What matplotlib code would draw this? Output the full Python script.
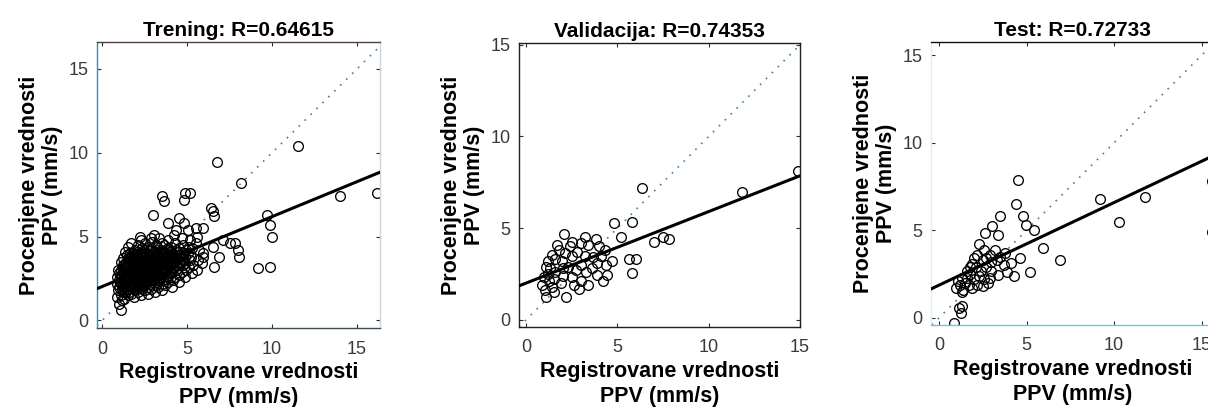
import matplotlib
matplotlib.use("Agg")
from matplotlib import pyplot as plt
import numpy as np

plt.rcParams['font.family'] = ['Liberation Sans', 'DejaVu Sans']

titles = ["Trening: R=0.64615", "Validacija: R=0.74353", "Test: R=0.72733"]
xlabel = "Registrovane vrednosti\nPPV (mm/s)"
ylabel = "Procenjene vrednosti\nPPV (mm/s)"
ticks = [0, 5, 10, 15]

# fit lines (slope, intercept)
fit_slope = [0.417, 0.39, 0.472]
fit_icpt = [2.02, 2.0, 1.87]

# training points (registered, estimated)
train_pts = [
    # dense cluster
    (0.9, 1.4), (0.95, 1.8), (0.85, 2.2), (0.9, 2.6), (0.95, 3.0),
    (1.1, 1.5), (1.15, 1.9), (1.05, 2.3), (1.1, 2.7), (1.2, 3.1), (1.1, 3.5), (1.15, 1.2),
    (1.3, 1.3), (1.35, 1.7), (1.25, 2.1), (1.3, 2.5), (1.35, 2.9), (1.3, 3.3), (1.25, 3.7), (1.35, 4.1),
    (1.5, 1.5), (1.55, 1.9), (1.45, 2.3), (1.5, 2.7), (1.55, 3.1), (1.5, 3.5), (1.45, 3.9), (1.55, 4.4),
    (1.7, 1.6), (1.75, 2.0), (1.65, 2.4), (1.7, 2.8), (1.75, 3.2), (1.7, 3.6), (1.65, 4.0), (1.7, 4.6),
    (1.9, 1.4), (1.95, 1.8), (1.85, 2.2), (1.9, 2.6), (1.95, 3.0), (1.9, 3.4), (1.85, 3.8), (1.95, 4.2),
    (2.1, 1.7), (2.15, 2.1), (2.05, 2.5), (2.1, 2.9), (2.15, 3.3), (2.1, 3.7), (2.05, 4.1), (2.1, 4.5),
    (2.3, 1.5), (2.35, 1.9), (2.25, 2.3), (2.3, 2.7), (2.35, 3.1), (2.3, 3.5), (2.25, 3.9), (2.35, 4.3), (2.3, 4.8),
    (2.5, 1.8), (2.55, 2.2), (2.45, 2.6), (2.5, 3.0), (2.55, 3.4), (2.5, 3.8), (2.45, 4.2), (2.55, 4.6),
    (2.7, 1.6), (2.75, 2.0), (2.65, 2.4), (2.7, 2.8), (2.75, 3.2), (2.7, 3.6), (2.65, 4.0), (2.75, 4.4),
    (2.9, 1.9), (2.95, 2.3), (2.85, 2.7), (2.9, 3.1), (2.95, 3.5), (2.9, 3.9), (2.85, 4.3), (2.95, 4.7),
    (3.1, 1.7), (3.15, 2.1), (3.05, 2.5), (3.1, 2.9), (3.15, 3.3), (3.1, 3.7), (3.05, 4.1), (3.15, 4.5),
    (3.3, 2.0), (3.35, 2.4), (3.25, 2.8), (3.3, 3.2), (3.35, 3.6), (3.3, 4.0), (3.25, 4.4), (3.35, 4.9),
    (3.5, 1.8), (3.55, 2.2), (3.45, 2.6), (3.5, 3.0), (3.55, 3.4), (3.5, 3.8), (3.45, 4.2), (3.55, 4.6),
    (3.7, 2.1), (3.75, 2.5), (3.65, 2.9), (3.7, 3.3), (3.75, 3.7), (3.7, 4.1), (3.65, 4.5),
    (3.9, 2.3), (3.95, 2.7), (3.85, 3.1), (3.9, 3.5), (3.95, 3.9), (3.9, 4.3), (3.85, 4.8),
    (4.1, 2.0), (4.15, 2.4), (4.05, 2.8), (4.1, 3.2), (4.15, 3.6), (4.1, 4.0), (4.05, 4.4),
    (4.3, 2.6), (4.35, 3.0), (4.25, 3.4), (4.3, 3.8), (4.35, 4.2), (4.3, 4.6), (4.25, 5.1),
    (4.5, 2.3), (4.55, 2.7), (4.45, 3.1), (4.5, 3.5), (4.55, 3.9), (4.5, 4.3),
    (4.7, 2.9), (4.75, 3.3), (4.65, 3.7), (4.7, 4.1), (4.75, 4.5), (4.7, 4.9),
    (4.9, 2.6), (4.95, 3.0), (4.85, 3.4), (4.9, 3.8), (4.95, 4.2),
    (5.1, 3.2), (5.15, 3.6), (5.05, 4.0), (5.1, 4.4), (5.15, 4.8),
    (5.3, 2.8), (5.35, 3.3), (5.25, 3.8), (5.3, 4.3),
    (5.6, 3.0), (5.65, 3.6), (5.55, 4.6), (5.6, 5.0),
    (5.9, 3.4), (5.95, 4.0),
    # second layer in the core
    (1.0, 2.0), (1.0, 2.4), (1.0, 2.8), (1.2, 1.7), (1.2, 2.1), (1.2, 2.5), (1.2, 2.9), (1.2, 3.3),
    (1.4, 1.9), (1.4, 2.3), (1.4, 2.7), (1.4, 3.1), (1.4, 3.5), (1.6, 1.7), (1.6, 2.1), (1.6, 2.5),
    (1.6, 2.9), (1.6, 3.3), (1.6, 3.7), (1.8, 2.0), (1.8, 2.4), (1.8, 2.8), (1.8, 3.2), (1.8, 3.6),
    (1.8, 4.0), (2.0, 1.9), (2.0, 2.3), (2.0, 2.7), (2.0, 3.1), (2.0, 3.5), (2.0, 3.9), (2.2, 2.0),
    (2.2, 2.4), (2.2, 2.8), (2.2, 3.2), (2.2, 3.6), (2.2, 4.0), (2.4, 2.1), (2.4, 2.5), (2.4, 2.9),
    (2.4, 3.3), (2.4, 3.7), (2.4, 4.1), (2.6, 2.3), (2.6, 2.7), (2.6, 3.1), (2.6, 3.5), (2.6, 3.9),
    (2.8, 2.2), (2.8, 2.6), (2.8, 3.0), (2.8, 3.4), (2.8, 3.8), (2.8, 4.2), (3.0, 2.4), (3.0, 2.8),
    (3.0, 3.2), (3.0, 3.6), (3.0, 4.0), (3.2, 2.3), (3.2, 2.7), (3.2, 3.1), (3.2, 3.5), (3.2, 3.9),
    (3.4, 2.5), (3.4, 2.9), (3.4, 3.3), (3.4, 3.7), (3.4, 4.1), (3.6, 2.4), (3.6, 2.8), (3.6, 3.2),
    (3.6, 3.6), (3.6, 4.0), (3.8, 2.6), (3.8, 3.0), (3.8, 3.4), (3.8, 3.8), (3.8, 4.2), (4.0, 2.9),
    (4.0, 3.3), (4.0, 3.7), (4.0, 4.1), (4.2, 3.1), (4.2, 3.5), (4.2, 3.9), (4.4, 3.3), (4.4, 3.7),
    (4.4, 4.1), (4.6, 3.5), (4.6, 3.9), (4.8, 3.6), (4.8, 4.0),
    # third layer in the core
    (1.1, 2.2), (1.1, 2.6), (1.1, 3.0), (1.3, 2.0), (1.3, 2.4), (1.3, 2.8), (1.3, 3.2),
    (1.5, 2.1), (1.5, 2.5), (1.5, 2.9), (1.5, 3.3), (1.5, 3.7), (1.7, 2.2), (1.7, 2.6),
    (1.7, 3.0), (1.7, 3.4), (1.7, 3.8), (1.9, 2.1), (1.9, 2.5), (1.9, 2.9), (1.9, 3.3),
    (1.9, 3.7), (2.1, 2.2), (2.1, 2.6), (2.1, 3.0), (2.1, 3.4), (2.1, 3.8), (2.3, 2.2),
    (2.3, 2.6), (2.3, 3.0), (2.3, 3.4), (2.3, 3.8), (2.5, 2.4), (2.5, 2.8), (2.5, 3.2),
    (2.5, 3.6), (2.5, 4.0), (2.7, 2.5), (2.7, 2.9), (2.7, 3.3), (2.7, 3.7), (2.9, 2.5),
    (2.9, 2.9), (2.9, 3.3), (2.9, 3.7), (3.1, 2.6), (3.1, 3.0), (3.1, 3.4), (3.1, 3.8),
    (3.3, 2.7), (3.3, 3.1), (3.3, 3.5), (3.3, 3.9), (3.5, 2.8), (3.5, 3.2), (3.5, 3.6),
    (3.7, 3.0), (3.7, 3.4), (3.7, 3.8), (3.9, 3.2), (3.9, 3.6), (4.1, 3.4), (4.1, 3.8),
    # upper fringe
    (2.2, 5.0), (2.9, 4.9), (3.05, 5.1), (3.9, 5.8), (4.5, 6.1), (4.8, 5.8),
    (5.05, 5.4), (5.5, 5.5), (5.95, 5.5), (4.35, 5.4), (3.0, 6.3),
    (3.5, 7.4), (3.65, 7.1), (4.9, 7.6), (5.2, 7.6), (4.8, 7.2),
    (6.4, 6.7), (6.5, 6.5), (6.6, 6.2), (6.76, 9.46), (8.2, 8.2), (11.5, 10.4),
    # right side
    (6.5, 4.4), (6.9, 3.8), (6.6, 3.2), (7.1, 4.8), (5.7, 4.2), (5.95, 3.8),
    (7.5, 4.6), (8.0, 4.2), (8.05, 3.8), (7.8, 4.6),
    (9.7, 6.3), (9.9, 5.7), (10.0, 5.0), (9.2, 3.1), (9.9, 3.2),
    (14.0, 7.4), (16.2, 7.6),
    # low
    (1.0, 1.0), (1.1, 0.6),
]

# validation points
val_pts = [
    (6.35, 7.2), (11.8, 6.95), (14.9, 8.1),
    (4.8, 5.3), (5.8, 5.35), (5.2, 4.5),
    (7.0, 4.25), (7.5, 4.5), (7.85, 4.4),
    (5.65, 3.3), (6.0, 3.3), (5.8, 2.55),
    (2.05, 4.65), (3.2, 4.5), (3.8, 4.4), (4.0, 4.0), (4.3, 3.8),
    (2.5, 4.25), (3.0, 4.2), (1.8, 3.8), (2.15, 3.65), (2.5, 3.45),
    (1.4, 3.55), (1.6, 3.3), (1.1, 2.9), (0.95, 2.35), (1.25, 2.1),
    (0.85, 1.9), (1.4, 1.8), (1.1, 1.25), (2.2, 1.25),
    (2.5, 2.35), (3.0, 2.1), (3.4, 1.9), (3.9, 3.1), (4.35, 3.0),
    (3.9, 2.45), (4.45, 2.45), (3.2, 3.45), (3.65, 3.4), (3.0, 3.0),
    (1.95, 3.2), (2.3, 2.9), (2.7, 2.7), (1.2, 2.5), (1.5, 2.2),
    (1.9, 2.0), (1.3, 2.8), (1.6, 2.6), (2.0, 2.4), (2.8, 3.7),
    (2.4, 4.0), (1.7, 4.1), (3.4, 4.1), (4.1, 3.5), (3.6, 2.8),
    (2.9, 1.7), (2.0, 2.8), (1.0, 1.6), (1.5, 1.5), (3.3, 2.6),
    (4.7, 3.2), (2.6, 1.9), (1.2, 3.2), (4.2, 2.1),
]

# test points
test_pts = [
    (4.5, 7.9), (4.4, 6.5), (3.5, 5.8), (3.05, 5.25), (3.35, 4.75),
    (2.65, 4.85), (4.8, 5.8), (4.95, 5.3), (5.4, 5.0), (5.95, 4.0),
    (6.9, 3.3), (5.2, 2.6), (4.65, 3.4), (3.7, 3.0), (4.1, 3.15),
    (3.35, 2.45), (9.2, 6.8), (11.75, 6.9), (10.3, 5.45),
    (15.6, 7.8), (15.6, 4.9),
    (2.3, 4.2), (2.6, 3.9), (2.9, 3.6), (2.2, 3.6), (2.5, 3.3),
    (3.0, 3.2), (3.2, 3.9), (3.5, 3.5), (1.9, 3.1), (2.1, 2.9),
    (2.4, 2.7), (2.7, 2.9), (3.0, 2.7), (1.6, 2.7), (1.8, 2.5),
    (2.0, 2.2), (2.3, 2.4), (2.6, 2.2), (2.9, 2.3), (1.3, 2.3),
    (1.5, 2.0), (1.7, 1.9), (1.2, 1.9), (1.4, 1.6), (1.9, 1.7),
    (2.2, 1.9), (2.5, 1.8), (1.1, 2.1), (1.6, 2.3), (2.8, 2.0),
    (3.3, 3.3), (3.8, 3.7), (2.0, 3.4), (1.8, 2.9), (2.7, 3.4),
    (4.3, 2.4), (3.9, 2.6), (1.0, 1.7), (1.3, 1.5),
    (1.15, 0.55), (1.25, 0.3), (0.85, -0.3), (1.3, 0.7),
]

panels = [train_pts, val_pts, test_pts]
xlims = [(-0.3, 16.35), (-0.4, 14.9), (-0.45, 15.7)]
ylims = [(-0.45, 16.6), (-0.4, 15.1), (-0.4, 15.75)]
positions = [
    [0.0803, 0.1941, 0.2343, 0.7027],
    [0.4296, 0.1966, 0.2326, 0.6978],
    [0.7707, 0.2015, 0.2343, 0.6953],
]
spine_cols = [
    {'left': '#4f86a8', 'top': '#5a3a3a', 'right': '#c8d6e0', 'bottom': '#3a4f5c'},
    {'left': '#202020', 'top': '#202020', 'right': '#202020', 'bottom': '#202020'},
    {'left': '#e2ebf1', 'top': '#101010', 'right': '#e2ebf1', 'bottom': '#8ab8d4'},
]

fig = plt.figure(figsize=(12.08, 4.07), dpi=100)

for i in range(3):
    ax = fig.add_axes(positions[i])
    pts = np.array(panels[i])
    ax.axline((0, 0), slope=1, color='#3f7fa6', ls=(0, (1, 4)), lw=1.2, zorder=1)
    ax.plot(pts[:, 0], pts[:, 1], 'o', mfc='none', mec='black', ms=7, mew=0.95, zorder=2)
    ax.axline((0, fit_icpt[i]), slope=fit_slope[i], color='black', lw=2.2, zorder=3)
    ax.set_xlim(*xlims[i])
    ax.set_ylim(*ylims[i])
    ax.set_xticks(ticks)
    ax.set_yticks(ticks)
    ax.tick_params(direction='in', length=3, width=0.8, top=True, right=True,
                   labelsize=13, labelcolor='#3a3a3a', color='#303030', pad=6)
    ax.tick_params(axis='x', pad=9)
    for side, c in spine_cols[i].items():
        ax.spines[side].set_color(c)
        ax.spines[side].set_linewidth(1.0)
    ax.set_title(titles[i], fontsize=15, fontweight='bold', pad=4)
    ax.set_xlabel(xlabel, fontsize=15.5, fontweight='bold', labelpad=3, linespacing=1.3)
    ax.set_ylabel(ylabel, fontsize=15.5, fontweight='bold', labelpad=4, linespacing=1.1)

fig.savefig("out.png", dpi=100)
